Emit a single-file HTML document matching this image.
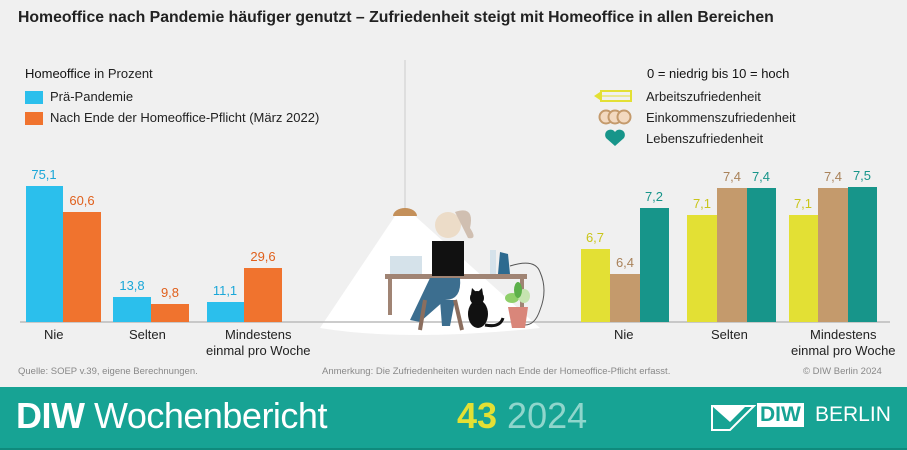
<!DOCTYPE html>
<html><head><meta charset="utf-8"><style>
body{margin:0;width:907px;height:450px;background:#f0f0f0;font-family:"Liberation Sans",sans-serif;position:relative;overflow:hidden}
.t{position:absolute;white-space:nowrap}
.b{position:absolute}
.v{position:absolute;font-size:13px;text-align:center;width:40px}
</style></head><body>
<div class="t" style="left:18px;top:9px;font-size:15.8px;font-weight:bold;color:#222">Homeoffice nach Pandemie häufiger genutzt – Zufriedenheit steigt mit Homeoffice in allen Bereichen</div>

<div class="t" style="left:25px;top:66px;font-size:13px;color:#222"><span style="color:#111">Homeoffice</span> in Prozent</div>
<div class="b" style="left:25px;top:91px;width:18px;height:13px;background:#2bbfec"></div>
<div class="t" style="left:50px;top:89px;font-size:13px;color:#222">Prä-Pandemie</div>
<div class="b" style="left:25px;top:112px;width:18px;height:13px;background:#f0732e"></div>
<div class="t" style="left:50px;top:110px;font-size:13px;color:#222">Nach Ende der Homeoffice-Pflicht (März 2022)</div>

<div class="t" style="left:647px;top:66px;font-size:13px;color:#111">0 = niedrig bis 10 = hoch</div>
<svg class="b" style="left:592px;top:89px" width="50" height="70">
<polygon points="2,7 8,3 8,11" fill="#e3e034"/><rect x="9" y="2" width="30" height="10" fill="none" stroke="#e3e034" stroke-width="2"/><line x1="9" y1="7" x2="39" y2="7" stroke="#e3e034"/>
<circle cx="14" cy="28" r="6.5" fill="#f3d9c0" stroke="#c49a6c" stroke-width="2"/><circle cx="23" cy="28" r="6.5" fill="#f3d9c0" stroke="#c49a6c" stroke-width="2"/><circle cx="32" cy="28" r="6.5" fill="#f3d9c0" stroke="#c49a6c" stroke-width="2"/>
<path d="M23 57 L14 49 A5 5 0 0 1 23 43 A5 5 0 0 1 32 49 Z" fill="#17958a"/>
</svg>
<div class="t" style="left:646px;top:89px;font-size:13px;color:#222">Arbeitszufriedenheit</div>
<div class="t" style="left:646px;top:110px;font-size:13px;color:#222">Einkommenszufriedenheit</div>
<div class="t" style="left:646px;top:131px;font-size:13px;color:#222">Lebenszufriedenheit</div>

<svg class="b" style="left:0;top:0" width="907" height="387">
<line x1="405" y1="60" x2="405" y2="212" stroke="#d8d8d8" stroke-width="1.5"/>
<path d="M393 216 A12 8 0 0 1 417 216 Z" fill="#c4905a"/>
<path d="M395 216 L415 216 L540 328 Q405 342 320 328 Z" fill="#fff"/>
<line x1="20" y1="322" x2="890" y2="322" stroke="#bbb" stroke-width="1.5"/>
<rect x="390" y="256" width="32" height="18" fill="#d5e2ea"/>
<rect x="385" y="274" width="142" height="5" fill="#a08474"/>
<rect x="388" y="279" width="4" height="36" fill="#a08474"/><rect x="520" y="279" width="4" height="36" fill="#a08474"/>
<circle cx="448" cy="225" r="13" fill="#ecdcc8"/><path d="M455 212 Q475 205 470 228 Q478 240 468 238" fill="#d0bfb1"/>
<rect x="432" y="241" width="32" height="35" fill="#111"/>
<path d="M430 278 L460 278 Q462 300 445 300 L420 322 L410 320 Z" fill="#3c6e8f"/>
<path d="M440 300 L455 300 L450 326 L442 326 Z" fill="#3c6e8f"/>
<path d="M425 300 L420 330 M455 300 L462 330" stroke="#8b6e5e" stroke-width="4"/>
<rect x="490" y="250" width="6" height="24" fill="#d5e2ea"/><path d="M498 274 L500 252 L508 254 L510 274 Z" fill="#2d6a8f"/>
<path d="M510 266 Q535 258 540 272 Q548 290 540 310 Q535 325 525 325" fill="none" stroke="#555" stroke-width="1"/>
<ellipse cx="478" cy="314" rx="10" ry="14" fill="#111"/><circle cx="477" cy="298" r="7" fill="#111"/><path d="M471 294 L472 288 L476 292 Z M483 294 L482 288 L478 292Z" fill="#111"/><path d="M485 325 Q500 328 503 318" stroke="#111" stroke-width="3" fill="none"/>
<path d="M508 307 L528 307 L525 328 L512 328 Z" fill="#d9867a"/>
<ellipse cx="512" cy="298" rx="7" ry="5" fill="#8fcf6a"/><ellipse cx="524" cy="296" rx="6" ry="7" fill="#c6e4b0"/><ellipse cx="518" cy="290" rx="4" ry="8" fill="#5cb04a"/>
</svg>

<div class="b" style="left:26px;top:186px;width:37px;height:136px;background:#2bbfec"></div>
<div class="b" style="left:63px;top:212px;width:38px;height:110px;background:#f0732e"></div>
<div class="b" style="left:113px;top:297px;width:38px;height:25px;background:#2bbfec"></div>
<div class="b" style="left:151px;top:304px;width:38px;height:18px;background:#f0732e"></div>
<div class="b" style="left:207px;top:302px;width:37px;height:20px;background:#2bbfec"></div>
<div class="b" style="left:244px;top:268px;width:38px;height:54px;background:#f0732e"></div>
<div class="v" style="left:24px;top:167px;color:#1aa7d8">75,1</div>
<div class="v" style="left:62px;top:193px;color:#e0601c">60,6</div>
<div class="v" style="left:112px;top:278px;color:#1aa7d8">13,8</div>
<div class="v" style="left:150px;top:285px;color:#e0601c">9,8</div>
<div class="v" style="left:205px;top:283px;color:#1aa7d8">11,1</div>
<div class="v" style="left:243px;top:249px;color:#e0601c">29,6</div>

<div class="b" style="left:581px;top:249px;width:29px;height:73px;background:#e3e034"></div>
<div class="b" style="left:610px;top:274px;width:30px;height:48px;background:#c49a6c"></div>
<div class="b" style="left:640px;top:208px;width:29px;height:114px;background:#17958a"></div>
<div class="b" style="left:687px;top:215px;width:30px;height:107px;background:#e3e034"></div>
<div class="b" style="left:717px;top:188px;width:30px;height:134px;background:#c49a6c"></div>
<div class="b" style="left:747px;top:188px;width:29px;height:134px;background:#17958a"></div>
<div class="b" style="left:789px;top:215px;width:29px;height:107px;background:#e3e034"></div>
<div class="b" style="left:818px;top:188px;width:30px;height:134px;background:#c49a6c"></div>
<div class="b" style="left:848px;top:187px;width:29px;height:135px;background:#17958a"></div>
<div class="v" style="left:575px;top:230px;color:#c9c51a">6,7</div>
<div class="v" style="left:605px;top:255px;color:#a9825a">6,4</div>
<div class="v" style="left:634px;top:189px;color:#17958a">7,2</div>
<div class="v" style="left:682px;top:196px;color:#c9c51a">7,1</div>
<div class="v" style="left:712px;top:169px;color:#a9825a">7,4</div>
<div class="v" style="left:741px;top:169px;color:#17958a">7,4</div>
<div class="v" style="left:783px;top:196px;color:#c9c51a">7,1</div>
<div class="v" style="left:813px;top:169px;color:#a9825a">7,4</div>
<div class="v" style="left:842px;top:168px;color:#17958a">7,5</div>

<div class="t" style="left:44px;top:327px;font-size:13px;color:#222">Nie</div>
<div class="t" style="left:129px;top:327px;font-size:13px;color:#222">Selten</div>
<div class="t" style="left:206px;top:327px;font-size:13px;color:#222;text-align:center;line-height:16px">Mindestens<br>einmal pro Woche</div>
<div class="t" style="left:614px;top:327px;font-size:13px;color:#222">Nie</div>
<div class="t" style="left:711px;top:327px;font-size:13px;color:#222">Selten</div>
<div class="t" style="left:791px;top:327px;font-size:13px;color:#222;text-align:center;line-height:16px">Mindestens<br>einmal pro Woche</div>

<div class="t" style="left:18px;top:366px;font-size:9.5px;color:#888">Quelle: SOEP v.39, eigene Berechnungen.</div>
<div class="t" style="left:322px;top:366px;font-size:9.5px;color:#888">Anmerkung: Die Zufriedenheiten wurden nach Ende der Homeoffice-Pflicht erfasst.</div>
<div class="t" style="left:803px;top:366px;font-size:9.5px;color:#888">© DIW Berlin 2024</div>

<div class="b" style="left:0;top:387px;width:907px;height:63px;background:#17a394;border-bottom:2px solid #0f8a7c;box-sizing:border-box"></div>
<div class="t" style="left:16px;top:395px;font-size:36px;color:#fff;letter-spacing:-0.5px"><b>DIW</b> Wochenbericht</div>
<div class="t" style="left:457px;top:395px;font-size:36px;color:#8fd6cc"><b style="color:#e3e034">43</b> 2024</div>
<svg class="b" style="left:710px;top:404px" width="46" height="28"><path d="M2 2 L44 2 L20 26 L2 26 Z" fill="none" stroke="#fff" stroke-width="2"/><path d="M2 2 L20 18 L36 2" fill="#fff"/></svg>
<div class="t" style="left:757px;top:403px;font-size:21px;font-weight:bold;background:#fff;color:#17a394;padding:0 3px;line-height:24px">DIW</div>
<div class="t" style="left:815px;top:403px;font-size:21px;color:#fff;line-height:24px">BERLIN</div>
</body></html>
